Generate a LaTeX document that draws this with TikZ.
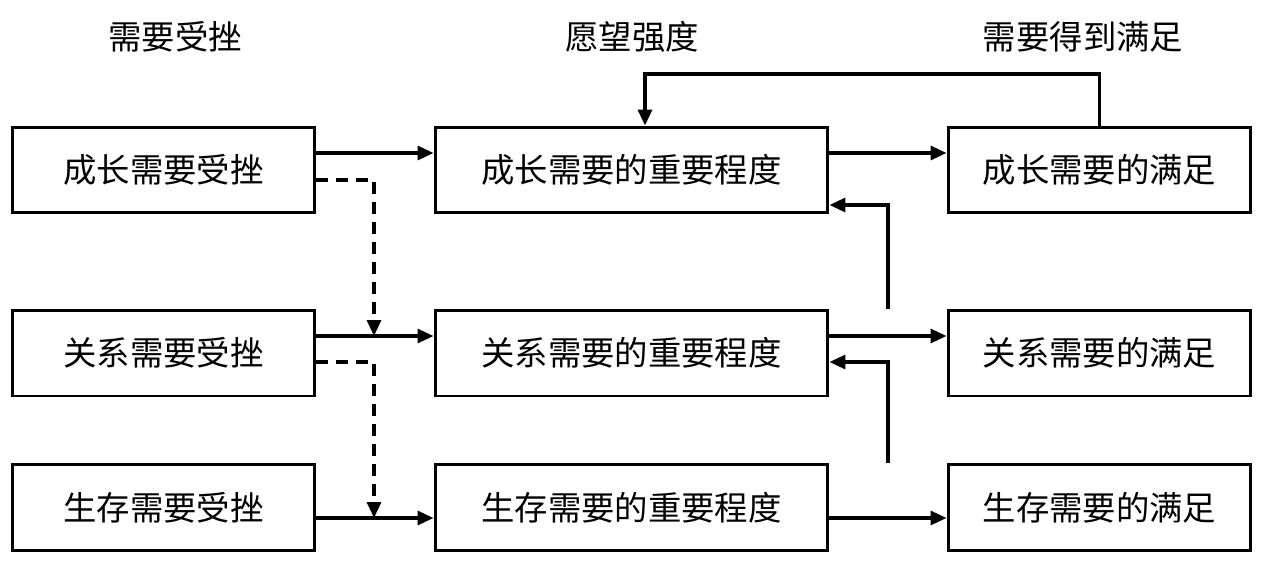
\documentclass[tikz,border=0pt]{standalone}
\usepackage{fontspec}
\newfontfamily\cjk{Noto Sans CJK SC}
\usetikzlibrary{arrows.meta}

\begin{document}
\begin{tikzpicture}[x=0.02cm,y=-0.02cm,
    font=\cjk\fontsize{19}{23}\selectfont,
    >={Triangle[length=0.32cm,width=0.28cm]}]
    \tikzset{
        box/.style={draw,line width=1.7pt,minimum height=1.72cm,inner sep=0pt},
        sidebox/.style={box,minimum width=6.06cm},
        midbox/.style={box,minimum width=7.86cm},
        link/.style={->,line width=1.8pt},
        dashline/.style={link,dash pattern=on 0.24cm off 0.16cm}
    }
    \useasboundingbox (0,0) rectangle (1264,571);

    % Column titles.
    \node (t-frust) at (175,37) {需要受挫};
    \node (t-want) at (632,37) {愿望强度};
    \node (t-sat) at (1083,37) {需要得到满足};

    % Boxes.
    \node[sidebox] (l1) at (163.5,170) {成长需要受挫};
    \node[sidebox] (l2) at (163.5,353) {关系需要受挫};
    \node[sidebox] (l3) at (163.5,507.5) {生存需要受挫};
    \node[midbox] (m1) at (631.5,170) {成长需要的重要程度};
    \node[midbox] (m2) at (631.5,353) {关系需要的重要程度};
    \node[midbox] (m3) at (631.5,507.5) {生存需要的重要程度};
    \node[sidebox] (r1) at (1099.5,170) {成长需要的满足};
    \node[sidebox] (r2) at (1099.5,353) {关系需要的满足};
    \node[sidebox] (r3) at (1099.5,507.5) {生存需要的满足};

    % Levels of the connectors.
    \coordinate (row1) at (0,153);
    \coordinate (row2) at (0,336);
    \coordinate (row3) at (0,518);
    \coordinate (dash1) at (0,180);
    \coordinate (dash2) at (0,362);
    \coordinate (join2) at (374,336);
    \coordinate (join3) at (374,518);
    \coordinate (fbx) at (888,0);
    \coordinate (fb1) at (0,205);
    \coordinate (fb2) at (0,362);
    \coordinate (loop) at (645,74);

    % Solid arrows.
    \foreach \i in {1,2,3}{
        \draw[link] (l\i.east |- row\i) -- (m\i.west |- row\i);
        \draw[link] (m\i.east |- row\i) -- (r\i.west |- row\i);
    }

    % Dashed arrows.
    \draw[dashline] (l1.east |- dash1) -| (join2);
    \draw[dashline] (l2.east |- dash2) -| (join3);

    % Feedback.
    \draw[link] (r2.north -| fbx) |- (m1.east |- fb1);
    \draw[link] (r3.north -| fbx) |- (m2.east |- fb2);
    \draw[link] (r1.north) |- (loop) -- (m1.north -| loop);
\end{tikzpicture}
\end{document}
